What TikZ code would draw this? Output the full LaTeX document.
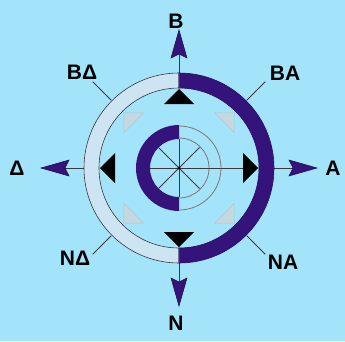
\documentclass[tikz,border=0pt]{standalone}
\usepackage{fontspec}
\setmainfont{Liberation Sans}
\definecolor{bg}{RGB}{163,228,250}
\definecolor{dk}{RGB}{52,20,122}
\definecolor{pale}{RGB}{205,228,242}
\definecolor{paletri}{RGB}{196,216,226}
\definecolor{ln}{RGB}{60,55,65}
\definecolor{thinc}{RGB}{130,115,115}
\begin{document}
\begin{tikzpicture}[x=1pt,y=1pt,
  lbl/.style={font=\fontsize{21}{24}\selectfont\bfseries, inner sep=0pt, text=black},
  axis/.style={draw=ln, line width=0.9pt},
  arrowhd/.style={fill=dk, draw=dk!60!black, line width=0.5pt, line join=miter},
  blacktri/.style={fill=black},
  paletri/.style={fill=paletri, draw=paletri!75!gray, line width=0.4pt}]
\fill[bg] (0,0) rectangle (345,341);
\useasboundingbox (0,0) rectangle (345,341);
\begin{scope}[shift={(179,173)}]
  \coordinate (C) at (0,0);
  % axis lines and arrowheads
  \foreach \a in {0,90,180,270} {
    \begin{scope}[rotate=\a]
      \coordinate (ringout\a) at (95,0);
      \coordinate (tip\a) at (138,0);
      \draw[axis] (ringout\a) -- (122,0);
      \filldraw[arrowhd] (tip\a) -- (110,8) -- (114,0) -- (110,-8) -- cycle;
    \end{scope}
  }
  % outer ring
  \filldraw[fill=pale, draw=ln, line width=0.6pt] (90:95) arc (90:270:95) -- (270:80) arc (270:90:80) -- cycle;
  \filldraw[fill=dk, draw=dk!80!black, line width=0.6pt] (-90:95) arc (-90:90:95) -- (90:80) arc (90:-90:80) -- cycle;
  \draw[axis] (0,80) -- (0,95);
  \draw[axis] (0,-80) -- (0,-95);
  % diagonal ticks
  \foreach \a in {45,135,225,315}
    \draw[ln, line width=0.9pt] (\a:96) -- (\a:122);
  % triangles
  \foreach \a in {0,90,180,270}
    \fill[blacktri, rotate=\a] (79,0) -- (64,15) -- (64,-15) -- cycle;
  \foreach \a in {45,135,225,315}
    \filldraw[paletri, rotate=\a] (78,0) -- (64,14) -- (64,-14) -- cycle;
  % inner ring
  \fill[dk] (90:43) arc (90:270:43) -- (270:29) arc (270:90:29) -- cycle;
  \draw[thinc, line width=0.8pt] (-90:42) arc (-90:90:42);
  \draw[thinc, line width=0.8pt] (-90:30) arc (-90:90:30);
  \draw[axis] (C) -- (64,0);
  \foreach \a in {0,45,...,315}
    \draw[ln, line width=0.8pt] (C) -- (\a:29);
  \fill[black] (C) circle (1.6);
\end{scope}
% labels
\node[lbl] (lB) at (176,320) {B};
\node[lbl] (lN) at (176,18) {N};
\node[lbl] (lD) at (17,173) {Δ};
\node[lbl] (lA) at (333,173) {A};
\node[lbl] (lBD) at (82,269) {BΔ};
\node[lbl] (lBA) at (285,268) {BA};
\node[lbl] (lND) at (75,83) {NΔ};
\node[lbl] (lNA) at (283,79) {NA};
\end{tikzpicture}
\end{document}
